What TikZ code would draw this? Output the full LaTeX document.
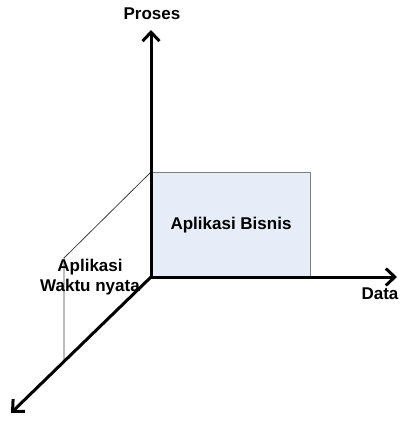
\documentclass[tikz,border=0pt]{standalone}
\usepackage{fontspec}
\setmainfont{Liberation Sans}
\usetikzlibrary{arrows.meta}
\begin{document}
\begin{tikzpicture}[x=1pt,y=-1pt,
  axis/.style={line width=3pt,-{Straight Barb[length=9pt,width=17pt,line width=3pt]}},
  thinline/.style={line width=0.8pt,black!75},
  lbl/.style={font=\fontsize{17}{20}\selectfont\bfseries,inner sep=0pt,align=center}]
\useasboundingbox (0,0) rectangle (399,423);
\coordinate (o) at (151,277);
\coordinate (up) at (151,30);
\coordinate (rt) at (397,277);
\coordinate (dl) at (11,413);
\coordinate (tl) at (151,172);
\coordinate (bk) at (64,258);
\coordinate (ft) at (64,361);
\node[draw=black!50,line width=1pt,fill={rgb,255:red,230;green,236;blue,248},minimum width=159pt,minimum height=105pt,inner sep=0pt,anchor=north west] (box) at (151,172) {};
\node[lbl] (bis) at (231,225) {Aplikasi Bisnis};
\draw[thinline] (tl) -- (bk) -- (ft);
\draw[axis] (o) -- (up);
\draw[axis] (o) -- (rt);
\draw[axis] (o) -- (dl);
\node[lbl] (proses) at (152,14) {Proses};
\node[lbl] (data) at (380,294) {Data};
\node[lbl] (rt2) at (90,277) {Aplikasi\\Waktu nyata};
\end{tikzpicture}
\end{document}
